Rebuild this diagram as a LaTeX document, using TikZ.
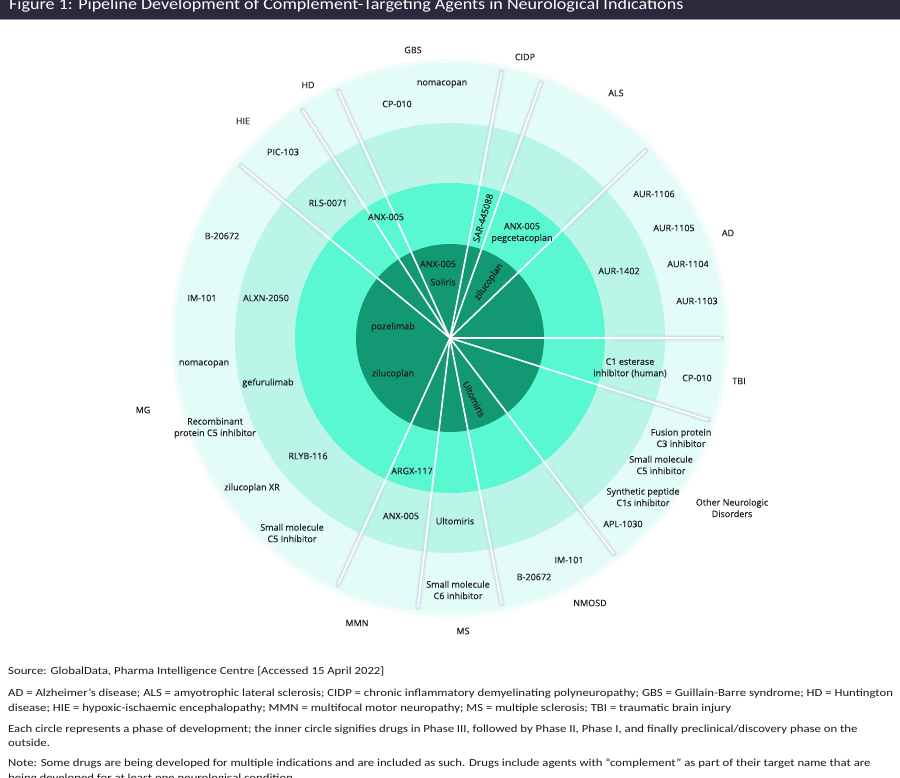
\documentclass[tikz,border=0pt]{standalone}
\usepackage{fontspec}
\setmainfont{Carlito}
\newfontfamily\labf[FakeBold=0.25]{Open Sans}
\newfontfamily\footf[FakeStretch=1.18]{Carlito}
\newfontfamily\titlef[FakeStretch=1.13]{Carlito}
\usetikzlibrary{calc}
\definecolor{band}{RGB}{44,41,60}
\definecolor{bandline}{RGB}{150,150,165}
\definecolor{ringA}{RGB}{18,152,114}
\definecolor{ringB}{RGB}{90,248,210}
\definecolor{ringC}{RGB}{186,245,232}
\definecolor{ringD}{RGB}{228,252,247}
\definecolor{ringE}{RGB}{242,253,251}
\definecolor{glowc}{RGB}{190,184,226}
\definecolor{labtext}{RGB}{30,30,30}
\definecolor{foottext}{RGB}{25,25,25}
\begin{document}
\begin{tikzpicture}[x=1pt,y=-1pt,
  lbl/.style={font=\labf\fontsize{9}{11.5}\selectfont, text=labtext, inner sep=0pt, align=center},
  ind/.style={lbl},
  spokeline/.style={draw=white, line width=1.6pt},
  glowwide/.style={draw=glowc, line width=7pt, opacity=0.18, line cap=round},
  glownarrow/.style={draw=glowc, line width=4pt, opacity=0.3, line cap=round},
  foot/.style={anchor=base west, inner sep=0pt, text=foottext, font=\footf\fontsize{10.8}{13}\selectfont}]
\useasboundingbox (0,0) rectangle (900,778);
\fill[white] (0,0) rectangle (900,778);
% title band
\fill[band] (0,0) rectangle (900,19);
\draw[bandline, line width=0.8pt] (0,19.4) -- (900,19.4);
\begin{scope}
\clip (0,0) rectangle (900,19);
\node[anchor=base west, text=white, inner sep=0pt, font=\titlef\fontsize{16}{16}\selectfont] (title) at (9,10) {Figure 1: Pipeline Development of Complement-Targeting Agents in Neurological Indications};
\end{scope}
% rings
\coordinate (c) at (450,338);
\fill[ringE] (c) circle (279);
\fill[ringD] (c) circle (275);
\fill[ringC] (c) circle (215);
\fill[ringB] (c) circle (155);
\fill[ringA] (c) circle (94);
% spoke ends
\foreach \n/\a in {1/-140.5,2/-122.9,3/-114.3,4/-79,5/-70.4,6/-43.8,7/0,8/17.6,9/52.8,10/79,11/96.8,12/114.4}{
  \coordinate (g\n) at ($(c)+(\a:165)$);
  \coordinate (h\n) at ($(c)+(\a:215)$);
  \coordinate (s\n) at ($(c)+(\a:271)$);
}
\foreach \n in {1,...,12}{ \draw[glowwide] (g\n) -- (s\n); \draw[glownarrow] (h\n) -- (s\n); }
\foreach \n in {1,...,12}{ \draw[spokeline] (c) -- (s\n); }
% Phase III
\node[lbl] (d1) at (438,264) {ANX-005};
\node[lbl] (d2) at (443,282) {Soliris};
\node[lbl, rotate=55] (d3) at (489,282) {zilucoplan};
\node[lbl] (d4) at (393,327) {pozelimab};
\node[lbl] (d5) at (393,374) {zilucoplan};
\node[lbl, rotate=-63] (d6) at (474,399) {Ultomiris};
% Phase II
\node[lbl] (b1) at (386,217) {ANX-005};
\node[lbl, rotate=73] (b2) at (483,218) {SAR-445088};
\node[lbl] (b3) at (522,233) {ANX-005\\pegcetacoplan};
\node[lbl] (b4) at (412,471) {ARGX-117};
% Phase I
\node[lbl] (t1) at (328,203) {RLS-0071};
\node[lbl] (t2) at (619,271) {AUR-1402};
\node[lbl] (t3) at (266,298) {ALXN-2050};
\node[lbl] (t4) at (630,368) {C1 esterase\\inhibitor (human)};
\node[lbl] (t5) at (268,383) {gefurulimab};
\node[lbl] (t6) at (308,456) {RLYB-116};
\node[lbl] (t7) at (401,516) {ANX-005};
\node[lbl] (t8) at (455,521) {Ultomiris};
% preclinical
\node[lbl] (o1) at (442,84) {nomacopan};
\node[lbl] (o2) at (397,104) {CP-010};
\node[lbl] (o3) at (283,152) {PIC-103};
\node[lbl] (o4) at (222,236) {B-20672};
\node[lbl] (o5) at (202,298) {IM-101};
\node[lbl] (o6) at (204,364) {nomacopan};
\node[lbl] (o7) at (215,428) {Recombinant\\protein C5 inhibitor};
\node[lbl] (o8) at (252,488) {zilucoplan XR};
\node[lbl] (o9) at (292,533) {Small molecule\\C5 Inhibitor};
\node[lbl] (o10) at (458,590) {Small molecule\\C6 inhibitor};
\node[lbl] (o11) at (534,577) {B-20672};
\node[lbl] (o12) at (569,560) {IM-101};
\node[lbl] (o13) at (623,524) {APL-1030};
\node[lbl] (o14) at (643,497) {Synthetic peptide\\C1s inhibitor};
\node[lbl] (o15) at (661,465) {Small molecule\\C5 inhibitor};
\node[lbl] (o16) at (681,438) {Fusion protein\\C3 inhibitor};
\node[lbl] (o17) at (697,378) {CP-010};
\node[lbl] (o18) at (697,301) {AUR-1103};
\node[lbl] (o19) at (688,264) {AUR-1104};
\node[lbl] (o20) at (674,228) {AUR-1105};
\node[lbl] (o21) at (654,194) {AUR-1106};
% indications
\node[ind] (iGBS) at (413,50) {GBS};
\node[ind] (iCIDP) at (525,57) {CIDP};
\node[ind] (iALS) at (616,93) {ALS};
\node[ind] (iAD) at (728,233) {AD};
\node[ind] (iTBI) at (739,381) {TBI};
\node[ind] (iOther) at (732,508) {Other Neurologic\\Disorders};
\node[ind] (iNMOSD) at (590,603) {NMOSD};
\node[ind] (iMS) at (463,631) {MS};
\node[ind] (iMMN) at (357,623) {MMN};
\node[ind] (iMG) at (143,410) {MG};
\node[ind] (iHIE) at (243,121) {HIE};
\node[ind] (iHD) at (308,85) {HD};
% footnotes
\node[foot] (f1) at (8,674.3) {Source: GlobalData, Pharma Intelligence Centre [Accessed 15 April 2022]};
\node[foot] (f2) at (8,696) {AD = Alzheimer’s disease; ALS = amyotrophic lateral sclerosis; CIDP = chronic inflammatory demyelinating polyneuropathy; GBS = Guillain-Barre syndrome; HD = Huntington};
\node[foot] (f3) at (8,711.7) {disease; HIE = hypoxic-ischaemic encephalopathy; MMN = multifocal motor neuropathy; MS = multiple sclerosis; TBI = traumatic brain injury};
\node[foot] (f4) at (8,732.3) {Each circle represents a phase of development; the inner circle signifies drugs in Phase III, followed by Phase II, Phase I, and finally preclinical/discovery phase on the};
\node[foot] (f5) at (8,746.5) {outside.};
\node[foot] (f6) at (8,766.7) {Note: Some drugs are being developed for multiple indications and are included as such. Drugs include agents with “complement” as part of their target name that are};
\node[foot] (f7) at (8,781.5) {being developed for at least one neurological condition.};
\end{tikzpicture}
\end{document}
